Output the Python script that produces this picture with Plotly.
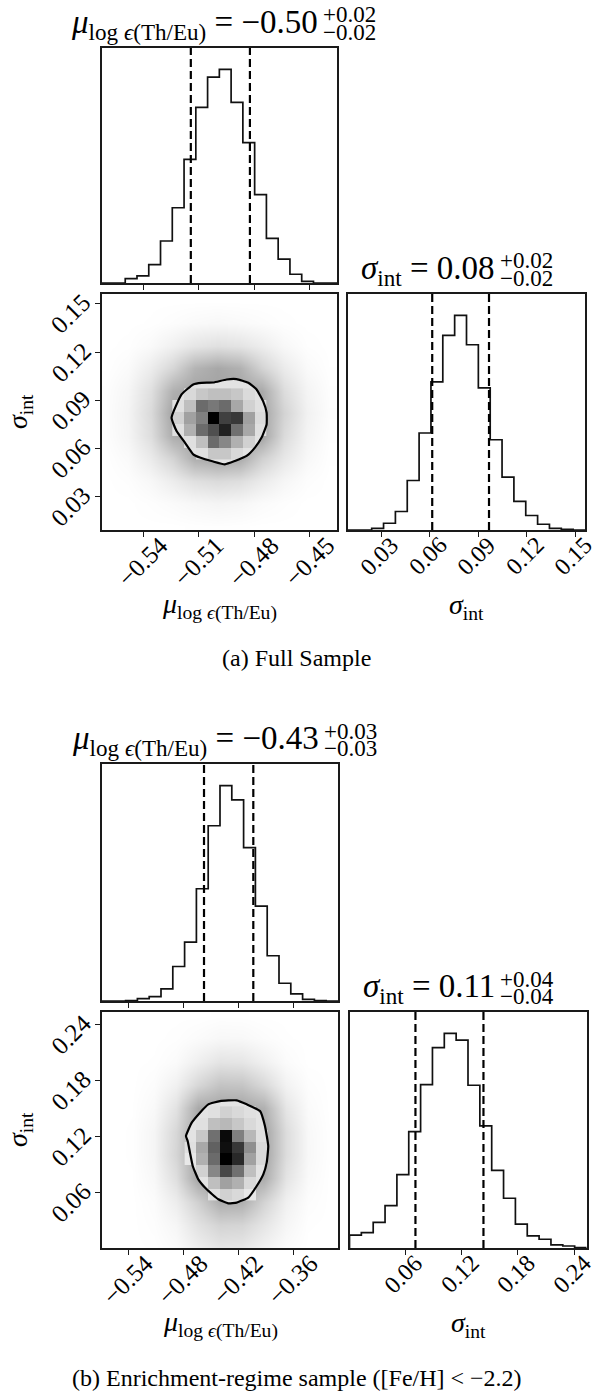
import plotly.graph_objects as go

# ====================== DATA ======================
NBINS = 20

# ---- (a) Full Sample ----
a_mu_range = [-0.5624, -0.4354]
a_sig_range = [0.0093, 0.1562]
a_mu_counts = [0, 0, 13, 21, 55, 125, 224, 368, 523, 613, 636, 538, 418, 263, 133, 71, 26, 5, 0, 0]
a_sig_counts = [0, 0, 5, 20, 55, 147, 288, 440, 578, 637, 550, 422, 268, 157, 85, 43, 17, 5, 2, 0]
a_mu_quant = [-0.5143, -0.4824]
a_sig_quant = [0.0615, 0.0967]
a_mu_ticks = [-0.54, -0.51, -0.48, -0.45]
a_mu_ticklabels = ["−0.54", "−0.51", "−0.48", "−0.45"]
a_sig_ticks = [0.03, 0.06, 0.09, 0.12, 0.15]
a_sig_ticklabels = ["0.03", "0.06", "0.09", "0.12", "0.15"]
a_contour_mu = [-0.5247, -0.5193, -0.5130, -0.5085, -0.5022, -0.4950, -0.4896, -0.4833, -0.4788,
                -0.4753, -0.4734, -0.4734, -0.4761, -0.4797, -0.4842, -0.4905, -0.4959, -0.5022,
                -0.5094, -0.5130, -0.5175, -0.5220, -0.5247]
a_contour_sig = [0.0792, 0.0937, 0.0999, 0.1009, 0.1011, 0.1030, 0.1032, 0.1009, 0.0968,
                 0.0895, 0.0823, 0.0750, 0.0668, 0.0606, 0.0554, 0.0523, 0.0502, 0.0519,
                 0.0544, 0.0564, 0.0637, 0.0709, 0.0792]
a_block_cols = [6, 7, 8, 9, 10, 11, 12, 13]
a_block_rows = [6, 7, 8, 9, 10, 11]
a_block_dens = [
    [None, None, 0.12, 0.22, 0.22, 0.15, None, None],
    [None, 0.12, 0.25, 0.58, 0.47, 0.31, 0.18, None],
    [0.12, 0.31, 0.58, 0.69, 0.87, 0.56, 0.34, 0.12],
    [0.18, 0.37, 0.50, 1.00, 0.75, 0.78, 0.37, 0.14],
    [0.12, 0.25, 0.58, 0.53, 0.58, 0.34, 0.18, 0.12],
    [None, 0.15, 0.22, 0.25, 0.25, 0.22, 0.14, None],
]
a_haze_mu = [-0.560, -0.548, -0.536, -0.524, -0.512, -0.500, -0.488, -0.476, -0.464, -0.452, -0.440]
a_haze_sig = [0.012, 0.026, 0.040, 0.054, 0.068, 0.082, 0.096, 0.110, 0.124, 0.138, 0.152]
a_haze = [
    [0, 0, 0, 0, 0.005, 0.008, 0.005, 0, 0, 0, 0],
    [0, 0, 0.01, 0.025, 0.045, 0.06, 0.05, 0.025, 0.01, 0, 0],
    [0, 0.01, 0.04, 0.10, 0.17, 0.20, 0.18, 0.11, 0.05, 0.012, 0],
    [0.003, 0.03, 0.11, 0.24, 0.45, 0.50, 0.47, 0.26, 0.13, 0.04, 0.004],
    [0.01, 0.055, 0.18, 0.45, 0.50, 0.50, 0.50, 0.50, 0.20, 0.06, 0.01],
    [0.012, 0.06, 0.20, 0.50, 0.50, 0.50, 0.50, 0.50, 0.24, 0.075, 0.015],
    [0.01, 0.05, 0.17, 0.43, 0.50, 0.50, 0.50, 0.47, 0.19, 0.06, 0.01],
    [0.002, 0.025, 0.10, 0.22, 0.41, 0.48, 0.43, 0.24, 0.11, 0.03, 0.003],
    [0, 0.006, 0.03, 0.08, 0.14, 0.17, 0.15, 0.10, 0.04, 0.008, 0],
    [0, 0, 0.004, 0.015, 0.03, 0.04, 0.03, 0.018, 0.006, 0, 0],
    [0, 0, 0, 0, 0, 0, 0, 0, 0, 0, 0],
]
a_title_mu = ["<i>μ</i><sub>log <i>ϵ</i>(Th/Eu)</sub> = −0.50", "+0.02", "−0.02"]
a_title_sig = ["<i>σ</i><sub>int</sub> = 0.08", "+0.02", "−0.02"]
a_caption = "(a) Full Sample"

# ---- (b) Enrichment-regime sample ----
b_mu_range = [-0.5687, -0.3112]
b_sig_range = [0.0003, 0.2533]
b_mu_counts = [0, 0, 1, 7, 13, 36, 103, 176, 335, 523, 643, 600, 458, 283, 135, 53, 21, 5, 1, 0]
b_sig_counts = [38, 46, 76, 126, 218, 346, 486, 596, 638, 618, 484, 363, 231, 148, 71, 36, 26, 9, 6, 1]
b_mu_quant = [-0.4574, -0.4036]
b_sig_quant = [0.0707, 0.1433]
b_mu_ticks = [-0.54, -0.48, -0.42, -0.36]
b_mu_ticklabels = ["−0.54", "−0.48", "−0.42", "−0.36"]
b_sig_ticks = [0.06, 0.12, 0.18, 0.24]
b_sig_ticklabels = ["0.06", "0.12", "0.18", "0.24"]
b_contour_mu = [-0.4771, -0.4708, -0.4618, -0.4527, -0.4400, -0.4217, -0.4108, -0.3963, -0.3909,
                -0.3873, -0.3890, -0.3927, -0.3999, -0.4091, -0.4217, -0.4309, -0.4418, -0.4545,
                -0.4636, -0.4697, -0.4727, -0.4752, -0.4771]
b_contour_sig = [0.1203, 0.1347, 0.1454, 0.1543, 0.1578, 0.1586, 0.1543, 0.1471, 0.1311,
                 0.1096, 0.0918, 0.0793, 0.0668, 0.0543, 0.0490, 0.0482, 0.0525, 0.0632,
                 0.0739, 0.0882, 0.1025, 0.1150, 0.1203]
b_block_cols = [7, 8, 9, 10, 11, 12, 13]
b_block_rows = [4, 5, 6, 7, 8, 9, 10, 11]
b_block_dens = [
    [None, None, 0.12, 0.18, 0.15, 0.09, None],
    [None, None, 0.25, 0.37, 0.31, 0.15, None],
    [None, 0.18, 0.47, 0.72, 0.56, 0.25, None],
    [0.09, 0.31, 0.58, 1.00, 0.84, 0.37, 0.15],
    [0.12, 0.34, 0.62, 0.94, 0.78, 0.44, 0.15],
    [None, 0.22, 0.56, 0.96, 0.50, 0.28, 0.12],
    [None, 0.12, 0.25, 0.28, 0.22, 0.15, None],
    [None, None, 0.12, 0.18, 0.15, 0.12, None],
]
b_haze_mu = [-0.560, -0.536, -0.512, -0.488, -0.464, -0.440, -0.416, -0.392, -0.368, -0.344, -0.320]
b_haze_sig = [0.0, 0.025, 0.05, 0.075, 0.10, 0.125, 0.15, 0.175, 0.20, 0.225, 0.25]
b_haze = [
    [0, 0, 0.004, 0.025, 0.09, 0.14, 0.13, 0.07, 0.02, 0, 0],
    [0, 0, 0.012, 0.05, 0.16, 0.24, 0.23, 0.14, 0.05, 0.004, 0],
    [0, 0, 0.02, 0.10, 0.26, 0.45, 0.44, 0.24, 0.08, 0.015, 0],
    [0, 0.002, 0.04, 0.18, 0.50, 0.50, 0.50, 0.45, 0.15, 0.03, 0],
    [0, 0.004, 0.055, 0.23, 0.50, 0.50, 0.50, 0.50, 0.19, 0.04, 0.002],
    [0, 0.004, 0.055, 0.22, 0.50, 0.50, 0.50, 0.50, 0.19, 0.038, 0.002],
    [0, 0.002, 0.035, 0.16, 0.47, 0.50, 0.50, 0.43, 0.14, 0.025, 0],
    [0, 0, 0.018, 0.08, 0.22, 0.33, 0.32, 0.21, 0.07, 0.012, 0],
    [0, 0, 0.004, 0.025, 0.09, 0.15, 0.14, 0.08, 0.022, 0, 0],
    [0, 0, 0, 0.006, 0.022, 0.04, 0.037, 0.018, 0.004, 0, 0],
    [0, 0, 0, 0, 0, 0.005, 0.004, 0, 0, 0, 0],
]
b_title_mu = ["<i>μ</i><sub>log <i>ϵ</i>(Th/Eu)</sub> = −0.43", "+0.03", "−0.03"]
b_title_sig = ["<i>σ</i><sub>int</sub> = 0.11", "+0.04", "−0.04"]
b_caption = "(b) Enrichment-regime sample ([Fe/H] < −2.2)"

x_label = "<i>μ</i><sub>log <i>ϵ</i>(Th/Eu)</sub>"
y_label = "<i>σ</i><sub>int</sub>"

# ====================== LAYOUT ======================
W, H = 593, 1399
FONT = "Liberation Serif, DejaVu Serif, serif"
LINE = "#1a1a1a"
TICK_FS = 25
TITLE_FS = 33
SCRIPT_FS = 23
LABEL_FS = 28
CAPTION_FS = 24


def PX(x):
    return x / W


def PY(y):
    return 1 - y / H


fig = go.Figure()
layout = dict(width=W, height=H, autosize=False, margin=dict(l=0, r=0, t=0, b=0),
              paper_bgcolor="white", plot_bgcolor="rgba(0,0,0,0)", showlegend=False,
              font=dict(family=FONT, color="black"))
annotations = []


def edges(rng):
    w = (rng[1] - rng[0]) / NBINS
    return [rng[0] + i * w for i in range(NBINS + 1)]


def centers(rng, idx):
    w = (rng[1] - rng[0]) / NBINS
    return [rng[0] + (i + 0.5) * w for i in idx]


def axis(dom, rng, ticks=None, anchor=None):
    d = dict(domain=dom, range=rng, showgrid=False, zeroline=False, showline=True, mirror=True,
             linecolor=LINE, linewidth=1.8, showticklabels=False, anchor=anchor, fixedrange=True)
    if ticks is not None:
        d.update(tickmode="array", tickvals=ticks, ticks="outside", ticklen=5, tickwidth=1.4,
                 tickcolor=LINE)
    else:
        d.update(ticks="")
    return d


def hist_trace(rng, counts, xa, ya):
    e = edges(rng)
    xs = [e[0]] + e
    ys = [0] + list(counts) + [0]
    return go.Scatter(x=xs, y=ys, mode="lines", line=dict(color="#111111", width=1.7, shape="hv"),
                      xaxis=xa, yaxis=ya, hoverinfo="skip")


def vline(q, top, xa, ya):
    return go.Scatter(x=[q, q], y=[0, top], mode="lines",
                      line=dict(color="black", width=2.2, dash="8px,4px"),
                      xaxis=xa, yaxis=ya, hoverinfo="skip")


def title(texts, right_px, base_px):
    annotations.append(dict(text=texts[0], x=PX(right_px), y=PY(base_px - 11), xref="paper", yref="paper",
                            xanchor="right", yanchor="middle", showarrow=False, font=dict(size=TITLE_FS)))
    annotations.append(dict(text=texts[1], x=PX(right_px + 1), y=PY(base_px - 20), xref="paper",
                            yref="paper", xanchor="left", yanchor="middle", showarrow=False,
                            font=dict(size=SCRIPT_FS)))
    annotations.append(dict(text=texts[2], x=PX(right_px + 1), y=PY(base_px - 3), xref="paper",
                            yref="paper", xanchor="left", yanchor="middle", showarrow=False,
                            font=dict(size=SCRIPT_FS)))


def build(ids, box, d):
    t, c, r, o = ids
    xl, xm, xr2l, xr = box["x"]
    yt, ym, y2t, yb = box["y"]
    mu_rng, sig_rng = d["mu_range"], d["sig_range"]
    mu_top = 1.1 * max(d["mu_counts"])
    sig_top = 1.1 * max(d["sig_counts"])
    dom_left = [PX(xl), PX(xm)]
    dom_right = [PX(xr2l), PX(xr)]
    dom_top = [PY(ym), PY(yt)]
    dom_bot = [PY(yb), PY(y2t)]
    layout[f"xaxis{t}"] = axis(dom_left, mu_rng, d["mu_ticks"], anchor=f"y{t}")
    layout[f"yaxis{t}"] = axis(dom_top, [0, mu_top], None, anchor=f"x{t}")
    layout[f"xaxis{c}"] = axis(dom_left, mu_rng, d["mu_ticks"], anchor=f"y{c}")
    layout[f"yaxis{c}"] = axis(dom_bot, sig_rng, d["sig_ticks"], anchor=f"x{c}")
    layout[f"xaxis{r}"] = axis(dom_right, sig_rng, d["sig_ticks"], anchor=f"y{r}")
    layout[f"yaxis{r}"] = axis(dom_bot, [0, sig_top], None, anchor=f"x{r}")
    layout[f"xaxis{o}"] = dict(overlaying=f"x{c}", range=mu_rng, visible=False, anchor=f"y{o}", fixedrange=True)
    layout[f"yaxis{o}"] = dict(overlaying=f"y{c}", range=sig_rng, visible=False, anchor=f"x{o}", fixedrange=True)

    xa = lambda n: "x" if n == 1 else f"x{n}"
    ya = lambda n: "y" if n == 1 else f"y{n}"

    fig.add_trace(hist_trace(mu_rng, d["mu_counts"], xa(t), ya(t)))
    for q in d["mu_quant"]:
        fig.add_trace(vline(q, mu_top, xa(t), ya(t)))
    fig.add_trace(hist_trace(sig_rng, d["sig_counts"], xa(r), ya(r)))
    for q in d["sig_quant"]:
        fig.add_trace(vline(q, sig_top, xa(r), ya(r)))
    # 2d: haze of the posterior samples
    fig.add_trace(go.Heatmap(x=d["haze_mu"], y=d["haze_sig"], z=d["haze"], zsmooth="best",
                             colorscale=[[0, "#ffffff"], [1, "#000000"]], zmin=0, zmax=1.4,
                             showscale=False, hoverinfo="skip", xaxis=xa(c), yaxis=ya(c)))
    fig.add_trace(go.Scatter(x=d["contour_mu"], y=d["contour_sig"], mode="lines", fill="toself",
                             fillcolor="#e3e3e3", line=dict(width=0, color="#e3e3e3"),
                             hoverinfo="skip", xaxis=xa(c), yaxis=ya(c)))
    # 2d: histogram blocks inside contour (overlay axes draw on top)
    fig.add_trace(go.Heatmap(x=centers(mu_rng, d["block_cols"]), y=centers(sig_rng, d["block_rows"]),
                             z=d["block_dens"], zsmooth=False,
                             colorscale=[[0, "#ffffff"], [1, "#000000"]], zmin=0, zmax=1,
                             showscale=False, hoverinfo="skip", xaxis=xa(o), yaxis=ya(o)))
    fig.add_trace(go.Scatter(x=d["contour_mu"], y=d["contour_sig"], mode="lines",
                             line=dict(color="black", width=2.2, shape="spline", smoothing=0.4),
                             hoverinfo="skip", xaxis=xa(o), yaxis=ya(o)))

    for v, s in zip(d["mu_ticks"], d["mu_ticklabels"]):
        annotations.append(dict(text=s, x=v, xref=xa(c), y=PY(yb), yref="paper", xanchor="center",
                                yanchor="top", yshift=1, textangle=-45, showarrow=False,
                                font=dict(size=TICK_FS)))
    for v, s in zip(d["sig_ticks"], d["sig_ticklabels"]):
        annotations.append(dict(text=s, x=v, xref=xa(r), y=PY(yb), yref="paper", xanchor="center",
                                yanchor="top", yshift=1, xshift=-2, textangle=-45, showarrow=False,
                                font=dict(size=TICK_FS - 1)))
        annotations.append(dict(text=s, x=PX(xl), xref="paper", y=v, yref=ya(c), xanchor="right",
                                yanchor="middle", xshift=-3, yshift=-10, textangle=-45,
                                showarrow=False, font=dict(size=TICK_FS)))
    annotations.append(dict(text=x_label, x=PX((xl + xm) / 2), y=PY(yb + 76), xref="paper", yref="paper",
                            xanchor="center", yanchor="middle", showarrow=False, font=dict(size=LABEL_FS)))
    annotations.append(dict(text=y_label, x=PX((xr2l + xr) / 2), y=PY(yb + 76), xref="paper", yref="paper",
                            xanchor="center", yanchor="middle", showarrow=False, font=dict(size=LABEL_FS)))
    annotations.append(dict(text=y_label, x=PX(19), y=PY((y2t + yb) / 2), xref="paper", yref="paper",
                            xanchor="center", yanchor="middle", textangle=-90, showarrow=False,
                            font=dict(size=LABEL_FS)))
    title(d["title_mu"], box["title_mu_right"], yt - 13)
    title(d["title_sig"], box["title_sig_right"], y2t - 13)
    annotations.append(dict(text=d["caption"], x=0.5, y=PY(box["caption_y"]), xref="paper", yref="paper",
                            xanchor="center", yanchor="middle", showarrow=False, font=dict(size=CAPTION_FS)))


data_a = dict(mu_range=a_mu_range, sig_range=a_sig_range, mu_counts=a_mu_counts, sig_counts=a_sig_counts,
              mu_quant=a_mu_quant, sig_quant=a_sig_quant, mu_ticks=a_mu_ticks, mu_ticklabels=a_mu_ticklabels,
              sig_ticks=a_sig_ticks, sig_ticklabels=a_sig_ticklabels, contour_mu=a_contour_mu,
              contour_sig=a_contour_sig, block_cols=a_block_cols, block_rows=a_block_rows,
              block_dens=a_block_dens, haze_mu=a_haze_mu, haze_sig=a_haze_sig, haze=a_haze,
              title_mu=a_title_mu, title_sig=a_title_sig, caption=a_caption)
data_b = dict(mu_range=b_mu_range, sig_range=b_sig_range, mu_counts=b_mu_counts, sig_counts=b_sig_counts,
              mu_quant=b_mu_quant, sig_quant=b_sig_quant, mu_ticks=b_mu_ticks, mu_ticklabels=b_mu_ticklabels,
              sig_ticks=b_sig_ticks, sig_ticklabels=b_sig_ticklabels, contour_mu=b_contour_mu,
              contour_sig=b_contour_sig, block_cols=b_block_cols, block_rows=b_block_rows,
              block_dens=b_block_dens, haze_mu=b_haze_mu, haze_sig=b_haze_sig, haze=b_haze,
              title_mu=b_title_mu, title_sig=b_title_sig, caption=b_caption)

box_a = dict(x=[101.7, 337, 348, 585], y=[48, 283, 294, 530], title_mu_right=320, title_sig_right=497,
             caption_y=658)
box_b = dict(x=[102, 338, 349.5, 586.5], y=[764, 1001, 1012, 1248], title_mu_right=321, title_sig_right=497,
             caption_y=1378)

build([1, 2, 3, 4], box_a, data_a)
build([5, 6, 7, 8], box_b, data_b)

layout["annotations"] = annotations
fig.update_layout(**layout)
fig.write_html("out.html")
